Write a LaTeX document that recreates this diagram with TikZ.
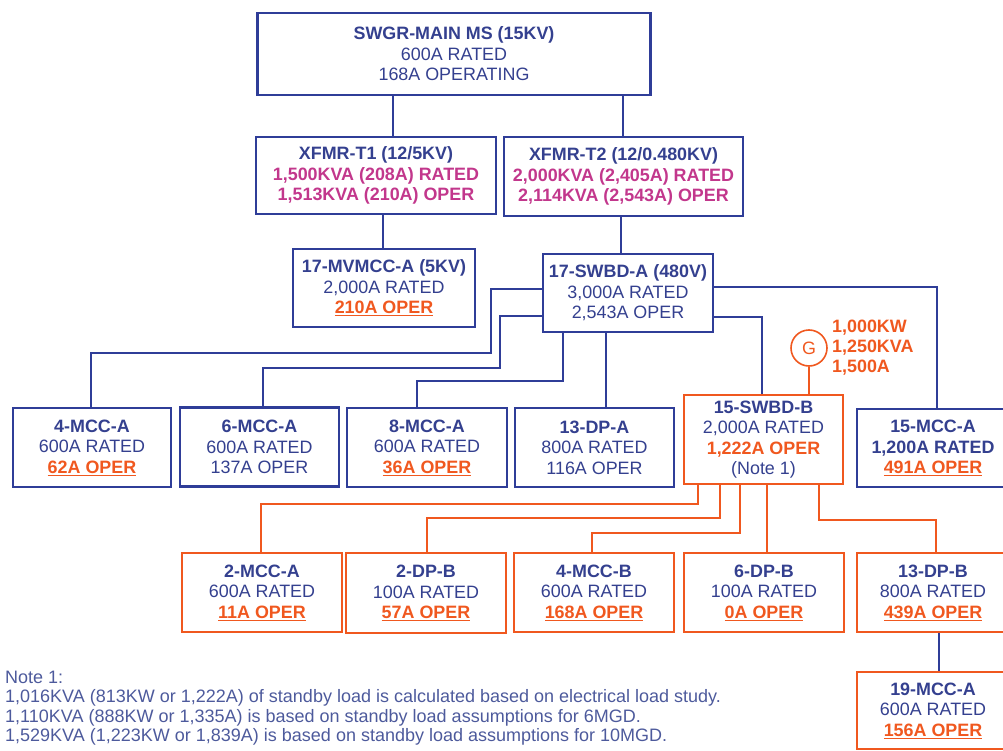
\documentclass[tikz,border=0pt]{standalone}
\usepackage{fontspec}
\setmainfont{Liberation Sans}
\usetikzlibrary{calc}

\definecolor{lineblue}{HTML}{2F3D98}
\definecolor{txtblue}{HTML}{34408F}
\definecolor{oper}{HTML}{F0581F}
\definecolor{magen}{HTML}{C2378C}
\definecolor{notegray}{HTML}{4D5A9C}

\newcommand{\boxhead}[1]{\textcolor{txtblue}{\bfseries #1}}
\newcommand{\boxrate}[1]{\textcolor{txtblue}{#1}}
\newcommand{\operul}[1]{\textcolor{oper}{\bfseries\underline{#1}}}
\newcommand{\operbf}[1]{\textcolor{oper}{\bfseries #1}}
\newcommand{\xfval}[1]{\textcolor{magen}{\bfseries #1}}

\tikzset{
  unit/.style={draw=lineblue, line width=2.4pt, align=center, inner sep=0pt,
    font=\fontsize{17.9}{20.6}\selectfont},
  sbunit/.style={unit, draw=oper},
  wire/.style={draw=lineblue, line width=2pt},
  owire/.style={draw=oper, line width=2pt},
}

\begin{document}
\begin{tikzpicture}[x=1pt,y=-1pt]
\useasboundingbox (0,0) rectangle (1003,751);

% main switchgear and transformers
\node[unit, minimum width=393, minimum height=82] (swgr) at (454,54)
  {\boxhead{SWGR-MAIN MS (15KV)}\\ \boxrate{600A RATED}\\ \boxrate{168A OPERATING}};
\node[unit, minimum width=240, minimum height=77] (t1) at (376,175.5)
  {\boxhead{XFMR-T1 (12/5KV)}\\ \xfval{1,500KVA (208A) RATED}\\ \xfval{1,513KVA (210A) OPER}};
\node[unit, minimum width=239, minimum height=79] (t2) at (623.5,176.5)
  {\boxhead{XFMR-T2 (12/0.480KV)}\\ \xfval{2,000KVA (2,405A) RATED}\\ \xfval{2,114KVA (2,543A) OPER}};

% second level
\node[unit, minimum width=182, minimum height=78] (mv) at (384,288)
  {\boxhead{17-MVMCC-A (5KV)}\\ \boxrate{2,000A RATED}\\ \operul{210A OPER}};
\node[unit, minimum width=170, minimum height=78] (sa) at (628,293)
  {\boxhead{17-SWBD-A (480V)}\\ \boxrate{3,000A RATED}\\ \boxrate{2,543A OPER}};

% third level
\node[unit, minimum width=158, minimum height=79] (m4) at (92,447.5)
  {\boxhead{4-MCC-A}\\ \boxrate{600A RATED}\\ \operul{62A OPER}};
\node[unit, minimum width=159, minimum height=79] (m6) at (259.5,447)
  {\boxhead{6-MCC-A}\\ \boxrate{600A RATED}\\ \boxrate{137A OPER}};
\node[unit, minimum width=160, minimum height=79] (m8) at (427,447.5)
  {\boxhead{8-MCC-A}\\ \boxrate{600A RATED}\\ \operul{36A OPER}};
\node[unit, minimum width=159, minimum height=79] (d13) at (594.5,447.5)
  {\boxhead{13-DP-A}\\ \boxrate{800A RATED}\\ \boxrate{116A OPER}};
\node[sbunit, minimum width=159, minimum height=89] (sb) at (763.5,439.5)
  {\boxhead{15-SWBD-B}\\ \boxrate{2,000A RATED}\\ \operbf{1,222A OPER}\\ \boxrate{(Note 1)}};
\node[unit, minimum width=152, minimum height=78] (m15) at (933,448)
  {\boxhead{15-MCC-A}\\ \boxhead{1,200A RATED}\\ \operul{491A OPER}};

% generator
\node[circle, draw=oper, line width=1.6pt, minimum size=36, inner sep=0pt,
  text=oper, font=\fontsize{17.9}{20.6}\selectfont] (gen) at (809,348) {G};
\node[anchor=west, align=left, inner sep=0pt, font=\fontsize{17.9}{20}\selectfont\bfseries,
  text=oper] (genval) at (832,348) {1,000KW\\ 1,250KVA\\ 1,500A};

% fourth level
\node[sbunit, minimum width=160, minimum height=79] (a2) at (262,592.5)
  {\boxhead{2-MCC-A}\\ \boxrate{600A RATED}\\ \operul{11A OPER}};
\node[sbunit, minimum width=160, minimum height=80] (b2) at (426,593)
  {\boxhead{2-DP-B}\\ \boxrate{100A RATED}\\ \operul{57A OPER}};
\node[sbunit, minimum width=160, minimum height=79] (b4) at (594,592.5)
  {\boxhead{4-MCC-B}\\ \boxrate{600A RATED}\\ \operul{168A OPER}};
\node[sbunit, minimum width=160, minimum height=79] (b6) at (764,592.5)
  {\boxhead{6-DP-B}\\ \boxrate{100A RATED}\\ \operul{0A OPER}};
\node[sbunit, minimum width=152, minimum height=79] (b13) at (933,592.5)
  {\boxhead{13-DP-B}\\ \boxrate{800A RATED}\\ \operul{439A OPER}};
\node[sbunit, minimum width=152, minimum height=77] (b19) at (933,710.5)
  {\boxhead{19-MCC-A}\\ \boxrate{600A RATED}\\ \operul{156A OPER}};

% note
\node[anchor=north west, align=left, inner sep=0pt, text=notegray,
  font=\fontsize{18}{19.4}\selectfont] (note) at (5,671)
  {Note 1:\\
   1,016KVA (813KW or 1,222A) of standby load is calculated based on electrical load study.\\
   1,110KVA (888KW or 1,335A) is based on standby load assumptions for 6MGD.\\
   1,529KVA (1,223KW or 1,839A) is based on standby load assumptions for 10MGD.};

% feeders from the main switchgear
\draw[wire] (swgr.south -| 393,0) -- (t1.north -| 393,0);
\draw[wire] (swgr.south -| 623,0) -- (t2.north -| 623,0);
\draw[wire] (t1.south -| 383,0) -- (mv.north -| 383,0);
\draw[wire] (t2.south -| 621,0) -- (sa.north -| 621,0);

% feeders from 17-SWBD-A
\draw[wire] (sa.west |- 0,289) -| (491,353) -| (m4.north -| 91,0);
\draw[wire] (sa.west |- 0,316) -| (500,368) -| (m6.north -| 263,0);
\draw[wire] (sa.south -| 563,0) |- (417,381) -- (m8.north -| 417,0);
\draw[wire] (sa.south -| 606,0) -- (d13.north -| 606,0);
\draw[wire] (sa.east |- 0,317) -| (sb.north -| 762,0);
\draw[wire] (sa.east |- 0,287) -| (m15.north -| 937,0);

% generator tie
\draw[owire] (gen.south) -- (sb.north -| gen.south);

% feeders from 15-SWBD-B
\draw[owire] (sb.south -| 698,0) |- (261,504) -- (a2.north -| 261,0);
\draw[owire] (sb.south -| 720,0) |- (427,518) -- (b2.north -| 427,0);
\draw[owire] (sb.south -| 740,0) |- (592,533) -- (b4.north -| 592,0);
\draw[owire] (sb.south -| 767,0) -- (b6.north -| 767,0);
\draw[owire] (sb.south -| 819,0) |- (936,520) -- (b13.north -| 936,0);
\draw[wire] (b13.south -| 939,0) -- (b19.north -| 939,0);
\end{tikzpicture}
\end{document}
